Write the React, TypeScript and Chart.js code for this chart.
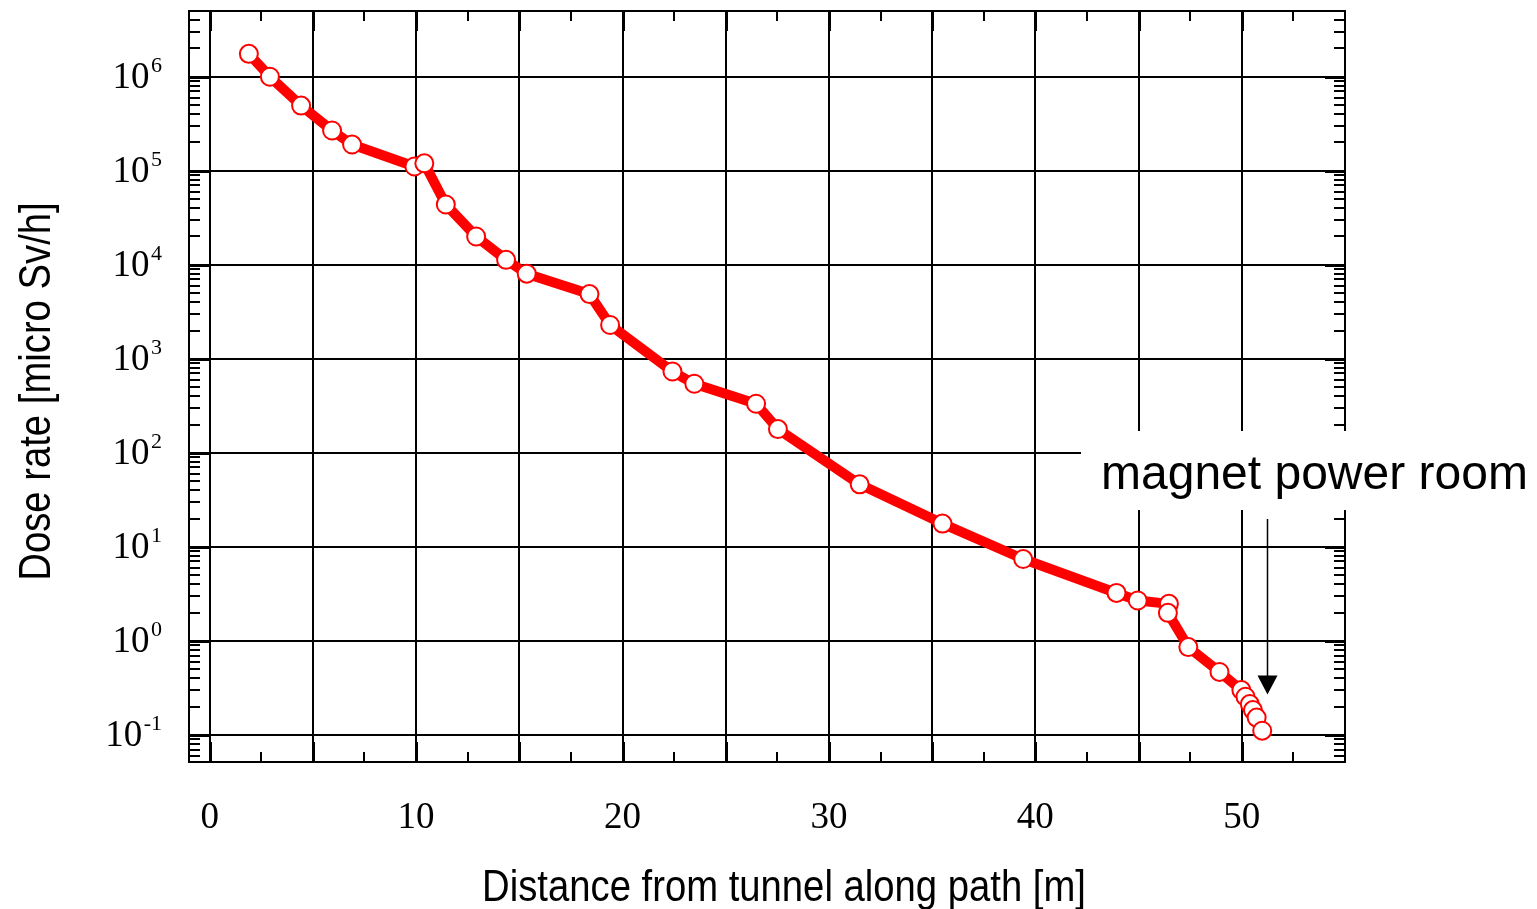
import React, { useEffect, useRef } from "react";
import { Chart, registerables } from "chart.js";

Chart.register(...registerables);

// ---- data ----
const distances = [
  1.9, 2.92, 4.43, 5.93, 6.9, 9.92, 10.4, 11.44, 12.91, 14.36, 15.36, 18.4, 19.4,
  22.42, 23.48, 26.47, 27.53, 31.49, 35.5, 39.41, 43.93, 44.96, 46.47, 46.42,
  47.41, 48.92, 49.98, 50.18, 50.39, 50.54, 50.72, 50.99,
];
const doseRates = [
  1.75e6, 1.0e6, 4.93e5, 2.68e5, 1.9e5, 1.11e5, 1.2e5, 4.38e4, 2.0e4, 1.13e4, 8.05e3,
  4.88e3, 2.29e3, 733, 543, 333, 179, 46.3, 17.7, 7.43, 3.24, 2.69, 2.48, 1.99,
  0.861, 0.468, 0.3, 0.255, 0.213, 0.184, 0.153, 0.111,
];

const xGridValues = [0, 5, 10, 15, 20, 25, 30, 35, 40, 45, 50];
const xMinorValues = [2.5, 7.5, 12.5, 17.5, 22.5, 27.5, 32.5, 37.5, 42.5, 47.5, 52.5];
const xTickLabels = ["0", "10", "20", "30", "40", "50"];
const xTickValues = [0, 10, 20, 30, 40, 50];
const yDecades = [1e-1, 1, 1e1, 1e2, 1e3, 1e4, 1e5, 1e6];
const yExponents = ["-1", "0", "1", "2", "3", "4", "5", "6"];

const xTitle = "Distance from tunnel along path [m]";
const yTitle = "Dose rate [micro Sv/h]";
const noteText = "magnet power room";
// annotation anchor (data coordinates)
const noteBoxX = 42.23;
const noteBoxTop = 170;
const noteBoxBottom = 24.7;
const arrowX = 51.2;
const arrowTip = 0.27;

const X_MIN = -1;
const X_MAX = 55;
const Y_MIN = 0.0516;
const Y_MAX = 5.0e6;

const decorPlugin = {
  id: "decor",
  afterDraw(chart: any) {
    const { ctx, chartArea: a, scales } = chart;
    const x = scales.x;
    const y = scales.y;
    const line = (x1: number, y1: number, x2: number, y2: number) => {
      ctx.beginPath();
      ctx.moveTo(x1, y1);
      ctx.lineTo(x2, y2);
      ctx.stroke();
    };
    ctx.save();
    ctx.strokeStyle = "#000";
    ctx.fillStyle = "#000";

    // y minor ticks
    ctx.lineWidth = 2;
    for (let e = -2; e <= 6; e++) {
      for (let m = 2; m <= 9; m++) {
        const v = m * Math.pow(10, e);
        if (v < Y_MIN || v > Y_MAX) continue;
        const py = Math.round(y.getPixelForValue(v));
        line(a.left, py, a.left + 11, py);
        line(a.right - 11, py, a.right, py);
      }
    }
    // y major ticks
    ctx.lineWidth = 3;
    for (const v of yDecades) {
      const py = Math.round(y.getPixelForValue(v)) + 0.5;
      line(a.left, py, a.left + 20, py);
      line(a.right - 20, py, a.right, py);
    }
    // x minor ticks
    ctx.lineWidth = 2;
    for (const v of xMinorValues) {
      if (v < X_MIN || v > X_MAX) continue;
      const px = Math.round(x.getPixelForValue(v));
      line(px, a.top, px, a.top + 10);
      line(px, a.bottom - 10, px, a.bottom);
    }
    // x major ticks
    ctx.lineWidth = 3;
    for (const v of xGridValues) {
      const px = Math.round(x.getPixelForValue(v)) + 0.5;
      line(px, a.top, px, a.top + 20);
      line(px, a.bottom - 20, px, a.bottom);
    }
    // frame
    ctx.lineWidth = 2;
    ctx.strokeRect(a.left, a.top, a.right - a.left, a.bottom - a.top);

    // x tick labels
    ctx.font = "37px 'Liberation Serif', 'Times New Roman', serif";
    ctx.textAlign = "center";
    ctx.textBaseline = "alphabetic";
    xTickValues.forEach((v, i) => {
      const px = x.getPixelForValue(v);
      ctx.fillText(xTickLabels[i], px, a.bottom + 66);
    });

    // y tick labels with superscripts
    const labelRight = a.left - 27;
    yDecades.forEach((v, i) => {
      const py = y.getPixelForValue(v);
      ctx.font = "22px 'Liberation Serif', 'Times New Roman', serif";
      ctx.textAlign = "right";
      const w = ctx.measureText(yExponents[i]).width;
      ctx.fillText(yExponents[i], labelRight, py - 5);
      ctx.font = "37px 'Liberation Serif', 'Times New Roman', serif";
      ctx.fillText("10", labelRight - w - 1.5, py + 11);
    });

    // axis titles
    ctx.font = "45px 'Liberation Sans', Arial, sans-serif";
    ctx.textAlign = "center";
    ctx.save();
    ctx.translate((a.left + a.right) / 2 + 17, a.bottom + 139);
    ctx.scale(0.85, 1);
    ctx.fillText(xTitle, 0, 0);
    ctx.restore();
    ctx.save();
    ctx.translate(50, (a.top + a.bottom) / 2 + 5);
    ctx.rotate(-Math.PI / 2);
    ctx.scale(0.85, 1);
    ctx.fillText(yTitle, 0, 0);
    ctx.restore();

    // annotation box
    const bx = Math.round(x.getPixelForValue(noteBoxX));
    const bt = Math.round(y.getPixelForValue(noteBoxTop));
    const bb = Math.round(y.getPixelForValue(noteBoxBottom));
    ctx.fillStyle = "#fff";
    ctx.fillRect(bx, bt, chart.width - bx, bb - bt);
    ctx.fillStyle = "#000";
    ctx.font = "48px 'Liberation Sans', Arial, sans-serif";
    ctx.textAlign = "left";
    ctx.fillText(noteText, bx + 20, bb - 21);

    // arrow
    const ax = Math.round(x.getPixelForValue(arrowX)) + 0.5;
    const tip = y.getPixelForValue(arrowTip);
    ctx.lineWidth = 1.5;
    line(ax, bb + 9, ax, tip - 18);
    ctx.beginPath();
    ctx.moveTo(ax - 10, tip - 19);
    ctx.lineTo(ax + 10, tip - 19);
    ctx.lineTo(ax, tip);
    ctx.closePath();
    ctx.fill();

    ctx.restore();
  },
};

export default function App() {
  const ref = useRef<HTMLCanvasElement>(null);
  useEffect(() => {
    const chart = new Chart(ref.current as HTMLCanvasElement, {
      type: "line",
      data: {
        datasets: [
          {
            data: distances.map((d, i) => ({ x: d, y: doseRates[i] })),
            borderColor: "#ff0000",
            borderWidth: 10,
            borderJoinStyle: "round",
            borderCapStyle: "round",
            pointRadius: 9,
            pointBorderWidth: 2,
            pointBackgroundColor: "#ffffff",
            pointBorderColor: "#ff0000",
            tension: 0,
          },
        ],
      },
      options: {
        responsive: false,
        animation: false,
        devicePixelRatio: 1,
        layout: { padding: { left: 189, right: 192, top: 8, bottom: 147 } },
        plugins: { legend: { display: false }, tooltip: { enabled: false } },
        events: [],
        scales: {
          x: {
            type: "linear",
            min: X_MIN,
            max: X_MAX,
            afterBuildTicks: (s: any) => {
              s.ticks = xGridValues.map((v) => ({ value: v }));
            },
            afterFit: (s: any) => {
              s.height = 0;
            },
            ticks: { display: false },
            grid: { color: "#000", lineWidth: 2, drawTicks: false },
            border: { display: false },
          },
          y: {
            type: "logarithmic",
            min: Y_MIN,
            max: Y_MAX,
            afterBuildTicks: (s: any) => {
              s.ticks = yDecades.map((v) => ({ value: v }));
            },
            afterFit: (s: any) => {
              s.width = 0;
            },
            ticks: { display: false },
            grid: { color: "#000", lineWidth: 2, drawTicks: false },
            border: { display: false },
          },
        },
      } as any,
      plugins: [decorPlugin],
    });
    return () => chart.destroy();
  }, []);
  return (
    <div style={{ position: "absolute", left: 0, top: 0, width: 1537, height: 909, background: "#fff" }}>
      <canvas ref={ref} width={1537} height={909} style={{ display: "block", width: 1537, height: 909 }} />
    </div>
  );
}
